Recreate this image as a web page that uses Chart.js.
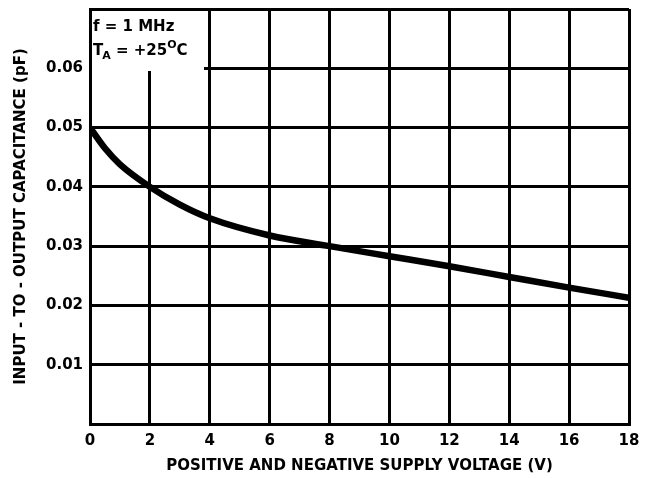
<!DOCTYPE html>
<html>
<head>
<meta charset="utf-8">
<script src="https://cdn.jsdelivr.net/npm/chart.js@4.4.0/dist/chart.umd.min.js"></script>
<style>
  html, body { margin: 0; padding: 0; background: #fff; }
  #wrap { width: 650px; height: 479px; }
</style>
</head>
<body>
<div id="wrap"><canvas id="capChart" width="650" height="479"></canvas></div>
<script>
// values
var supplyVoltage = [0, 0.5, 1, 2, 3, 4, 6, 8, 10, 12, 14, 16, 18];
var capacitance = [0.050, 0.0465, 0.0438, 0.0400, 0.0370, 0.0347, 0.0318, 0.0300, 0.0283, 0.0266, 0.0248, 0.0230, 0.0213];

var xTicks = [0, 2, 4, 6, 8, 10, 12, 14, 16, 18];
var yTickLabels = ['0.01', '0.02', '0.03', '0.04', '0.05', '0.06'];

var FONT = '"DejaVu Sans", Arial, sans-serif';

var curvePoints = supplyVoltage.map(function (v, i) {
    return { x: v, y: capacitance[i] };
});

// white patch + condition text in the top-left corner
var noteBox = {
    id: 'noteBox',
    beforeDatasetsDraw: function (chart) {
        var ctx = chart.ctx;
        var a = chart.chartArea;
        ctx.save();
        ctx.fillStyle = '#fff';
        ctx.fillRect(a.left + 2, a.top + 2, 112, 60);
        ctx.fillStyle = '#000';
        ctx.textBaseline = 'alphabetic';
        ctx.font = 'bold 15px ' + FONT;
        var x = a.left + 3;
        ctx.fillText('f = 1 MHz', x, a.top + 22);
        var y2 = a.top + 46;
        ctx.fillText('T', x, y2);
        var w = ctx.measureText('T').width - 1;
        ctx.font = 'bold 11px ' + FONT;
        ctx.fillText('A', x + w, y2 + 4);
        w += ctx.measureText('A').width;
        ctx.font = 'bold 15px ' + FONT;
        ctx.fillText(' = +25', x + w, y2);
        w += ctx.measureText(' = +25').width;
        ctx.font = 'bold 11px ' + FONT;
        ctx.fillText('O', x + w, y2 - 7);
        w += ctx.measureText('O').width;
        ctx.font = 'bold 15px ' + FONT;
        ctx.fillText('C', x + w, y2);
        ctx.restore();
    }
};

var capChart = new Chart(document.getElementById('capChart').getContext('2d'), {
    type: 'line',
    data: {
        datasets: [{
            data: curvePoints,
            borderColor: '#000',
            borderWidth: 6.5,
            pointRadius: 0,
            fill: false,
            tension: 0.4,
            cubicInterpolationMode: 'monotone'
        }]
    },
    options: {
        responsive: false,
        animation: false,
        layout: { padding: { left: 0, top: 9, right: 21, bottom: 0 } },
        plugins: {
            legend: { display: false },
            tooltip: { enabled: false }
        },
        scales: {
            x: {
                type: 'linear',
                min: 0,
                max: 18,
                afterBuildTicks: function (scale) {
                    scale.ticks = xTicks.map(function (v) { return { value: v }; });
                },
                afterFit: function (scale) {
                    scale.height = 55;
                    scale.paddingLeft = 0;
                    scale.paddingRight = 0;
                },
                grid: { color: '#000', lineWidth: 3, drawTicks: false },
                border: { color: '#000', width: 3 },
                ticks: {
                    color: '#000',
                    padding: 8,
                    maxRotation: 0,
                    font: { family: FONT, size: 15, weight: 'bold' }
                },
                title: {
                    display: true,
                    text: 'POSITIVE AND NEGATIVE SUPPLY VOLTAGE (V)',
                    color: '#000',
                    font: { family: FONT, size: 15, weight: 'bold' },
                    padding: { top: 4, bottom: 4 }
                }
            },
            y: {
                type: 'linear',
                min: 0,
                max: 0.07,
                afterBuildTicks: function (scale) {
                    var t = [{ value: 0 }];
                    yTickLabels.forEach(function (s) { t.push({ value: parseFloat(s) }); });
                    t.push({ value: 0.07 });
                    scale.ticks = t;
                },
                afterFit: function (scale) {
                    scale.width = 90;
                    scale.paddingTop = 0;
                    scale.paddingBottom = 0;
                },
                grid: { color: '#000', lineWidth: 3, drawTicks: false },
                border: { color: '#000', width: 3 },
                ticks: {
                    color: '#000',
                    padding: 7,
                    font: { family: FONT, size: 15, weight: 'bold' },
                    callback: function (v) {
                        var s = v.toFixed(2);
                        return yTickLabels.indexOf(s) >= 0 ? s : '';
                    }
                },
                title: {
                    display: true,
                    text: 'INPUT - TO - OUTPUT CAPACITANCE (pF)',
                    color: '#000',
                    font: { family: FONT, size: 15, weight: 'bold' },
                    padding: { top: 12, bottom: 0 }
                }
            }
        }
    },
    plugins: [noteBox]
});
</script>
</body>
</html>
